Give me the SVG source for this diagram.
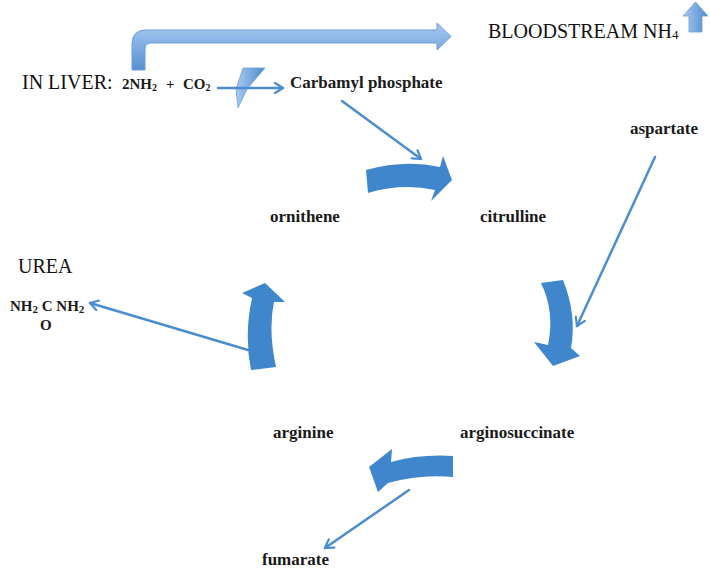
<svg xmlns="http://www.w3.org/2000/svg" width="710" height="571" viewBox="0 0 710 571">
<style>
.big{font-family:"Liberation Serif","DejaVu Serif",serif;font-size:20px;fill:#111}
.lbl{font-family:"Liberation Serif","DejaVu Serif",serif;font-size:17px;font-weight:bold;fill:#1a1a1a}
.sm{font-family:"Liberation Serif","DejaVu Serif",serif;font-size:15px;font-weight:bold;fill:#1a1a1a}
.thin{fill:none;stroke:#4a8dd0;stroke-width:2.5;stroke-linecap:round}
.cyc{fill:#3f86cc}
</style>
<defs>
<linearGradient id="gv" x1="0" y1="0" x2="0" y2="1">
<stop offset="0" stop-color="#a8cbf1"/>
<stop offset="1" stop-color="#5590d2"/>
</linearGradient>
<linearGradient id="gh" x1="0" y1="0" x2="1" y2="0">
<stop offset="0" stop-color="#a8cbf1"/>
<stop offset="1" stop-color="#4d89cc"/>
</linearGradient>
<marker id="ah" viewBox="0 0 12 12" refX="10" refY="6" markerWidth="12" markerHeight="12" markerUnits="userSpaceOnUse" orient="auto">
<path d="M2,1 L10,6 L2,11" fill="none" stroke="#4a8dd0" stroke-width="2.2" stroke-linecap="round" stroke-linejoin="round"/>
</marker>
</defs>

<g id="connectors">
<path id="bent-arrow" d="M132,70 L132,44 Q132,30 146,30 L437,30 L437,23 L451,36.5 L437,50 L437,43 L151,43 Q145,43 145,49 L145,70 Z" fill="url(#gv)" stroke="#6a9fd6" stroke-width="1"/>
<polygon id="bolt" points="243,68 265,68 247,89 238,108 236,89" fill="url(#gh)" stroke="#6a9fd6" stroke-width="0.8"/>
<line class="thin" x1="218" y1="88" x2="283" y2="88" marker-end="url(#ah)"/>
<line class="thin" x1="342" y1="101" x2="421" y2="159" marker-end="url(#ah)"/>
<line class="thin" x1="655" y1="157" x2="577" y2="326" marker-end="url(#ah)"/>
<line class="thin" x1="248" y1="350" x2="90" y2="303" marker-end="url(#ah)"/>
<line class="thin" x1="409" y1="490" x2="325" y2="548" marker-end="url(#ah)"/>
<path class="cyc" d="M366,170 Q405,159 440,167 L443,156 L452,180 L431,201 L435,190 Q402,183 368,193 Z"/>
<path class="cyc" d="M541,283 L563,280 Q577,315 571,348 L580,356 L553,366 L534,342 L548,345 Q555,312 541,283 Z"/>
<path class="cyc" d="M251,370 L276,367 Q268,330 274,302 L285,302 L265,283 L242,293 L252,298 Q244,335 251,370 Z"/>
<path class="cyc" d="M453,456 L453,477 Q420,474 388,483 L378,492 L369,467 L392,449 L391,462 Q420,454 453,456 Z"/>
</g>

<g id="nh4-arrow">
<polygon points="689,32 689,16 683,16 695.5,2 708,16 702,16 702,32" fill="url(#gh)" stroke="#6a9fd6" stroke-width="0.8"/>
</g>

<g id="in-liver">
<text class="big" x="22" y="89">IN LIVER:</text>
<text class="sm" x="122" y="89">2NH<tspan font-size="10" dy="2">2</tspan></text>
<text class="sm" x="166" y="89">+</text>
<text class="sm" x="183" y="89">CO<tspan font-size="10" dy="2">2</tspan></text>
</g>
<g id="carbamyl"><text class="lbl" x="290" y="88">Carbamyl phosphate</text></g>
<g id="bloodstream"><text class="big" x="488" y="38" font-size="19">BLOODSTREAM NH<tspan font-size="13" dy="1">4</tspan></text></g>
<g id="aspartate"><text class="lbl" x="630" y="134">aspartate</text></g>
<g id="ornithene"><text class="lbl" x="270" y="222">ornithene</text></g>
<g id="citrulline"><text class="lbl" x="480" y="222">citrulline</text></g>
<g id="urea">
<text class="big" x="18" y="273" font-size="21">UREA</text>
<text class="sm" x="10" y="311">NH<tspan font-size="11" dy="2">2</tspan><tspan dy="-2"> C NH</tspan><tspan font-size="11" dy="2">2</tspan></text>
<text class="sm" x="40" y="330">O</text>
</g>
<g id="arginine"><text class="lbl" x="273" y="438">arginine</text></g>
<g id="arginosuccinate"><text class="lbl" x="460" y="438">arginosuccinate</text></g>
<g id="fumarate"><text class="lbl" x="262" y="565">fumarate</text></g>
</svg>
